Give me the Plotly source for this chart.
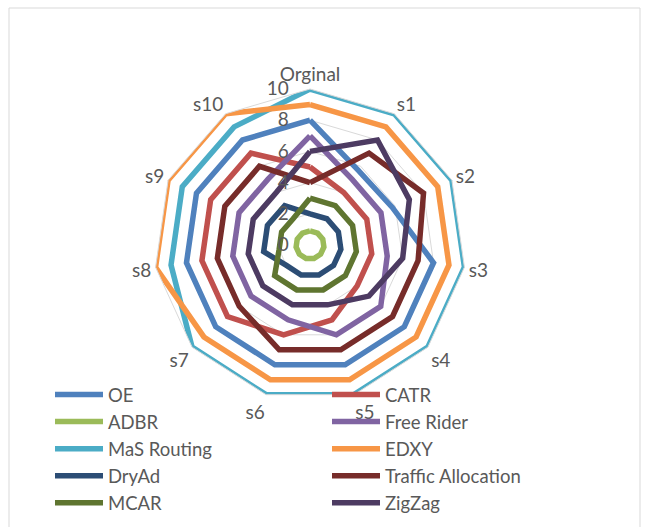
import plotly.graph_objects as go

categories = ["Orginal", "s1", "s2", "s3", "s4", "s5", "s6", "s7", "s8", "s9", "s10"]

oe = [8, 5.7, 5.8, 8, 8, 8, 8, 8, 8, 8, 8]
catr = [5, 4, 4, 4, 4, 5, 6, 7, 7, 7, 7]
adbr = [0.9, 0.9, 0.9, 0.9, 0.9, 0.9, 0.9, 0.9, 0.9, 0.9, 0.9]
free_rider = [7, 5, 5, 5, 6, 6, 5, 5, 5, 5, 5]
mas_routing = [10, 10, 10, 10, 10, 10, 10, 10, 9, 9, 9]
edxy = [9, 9, 9, 9, 9, 9, 9, 9, 10, 10, 10]
dryad = [2, 2, 2, 2, 2, 2, 2, 2, 3, 3, 3]
traffic_allocation = [4, 7, 8, 7, 7, 7, 7, 6, 6, 6, 6]
mcar = [3, 3, 3, 3, 3, 3, 3, 3, 2, 2, 2]
zigzag = [6, 8, 7, 6, 5, 4, 4, 4, 4, 4, 4]

series_names = ["OE", "CATR", "ADBR", "Free Rider", "MaS Routing", "EDXY",
                "DryAd", "Traffic Allocation", "MCAR", "ZigZag"]
series_values = [oe, catr, adbr, free_rider, mas_routing, edxy,
                 dryad, traffic_allocation, mcar, zigzag]
series_colors = ["#4F81BD", "#C0504D", "#9BBB59", "#8064A2", "#4BACC6", "#F79646",
                 "#2C4D75", "#772C2A", "#5F7530", "#4D3B62"]

radial_ticks = [0, 2, 4, 6, 8, 10]

W, H = 646, 527
cx, cy, R = 310, 245, 156

fig = go.Figure()
for name, vals, col in zip(series_names, series_values, series_colors):
    fig.add_trace(go.Scatterpolar(
        r=vals + vals[:1],
        theta=categories + categories[:1],
        mode="lines",
        name=name,
        line=dict(color=col, width=5.5),
    ))

font_family = "Lato, 'Open Sans', sans-serif"
fig.update_layout(
    width=W, height=H,
    margin=dict(l=0, r=0, t=0, b=0),
    paper_bgcolor="white",
    plot_bgcolor="white",
    font=dict(family=font_family, color="#595959", size=19),
    polar=dict(
        domain=dict(x=[(cx - R) / W, (cx + R) / W], y=[1 - (cy + R) / H, 1 - (cy - R) / H]),
        bgcolor="white",
        gridshape="linear",
        radialaxis=dict(
            range=[0, 10], tickvals=radial_ticks, ticktext=[str(t) for t in radial_ticks],
            angle=90, side="counterclockwise", showline=False,
            ticks="outside", ticklen=14, tickcolor="rgba(0,0,0,0)", tickangle=90,
            gridcolor="#D9D9D9", gridwidth=1,
            tickfont=dict(size=19, color="#595959", family=font_family),
        ),
        angularaxis=dict(
            type="category", direction="clockwise", rotation=90,
            showgrid=False, showline=True, linecolor="#D9D9D9", linewidth=1,
            ticks="", tickfont=dict(size=19, color="#595959", family=font_family),
        ),
    ),
    showlegend=True,
    legend=dict(
        orientation="h", x=50 / W, y=1 - 376 / H, xanchor="left", yanchor="top",
        entrywidth=214, entrywidthmode="pixels",
        font=dict(size=18.5, color="#595959", family=font_family),
        bgcolor="rgba(0,0,0,0)", itemwidth=48,
    ),
    shapes=[dict(type="rect", xref="paper", yref="paper",
                 x0=9 / W, x1=640 / W, y0=-0.05, y1=1 - 8 / H,
                 line=dict(color="#D9D9D9", width=1), fillcolor="rgba(0,0,0,0)",
                 layer="below")],
)

fig.write_html("out.html")
